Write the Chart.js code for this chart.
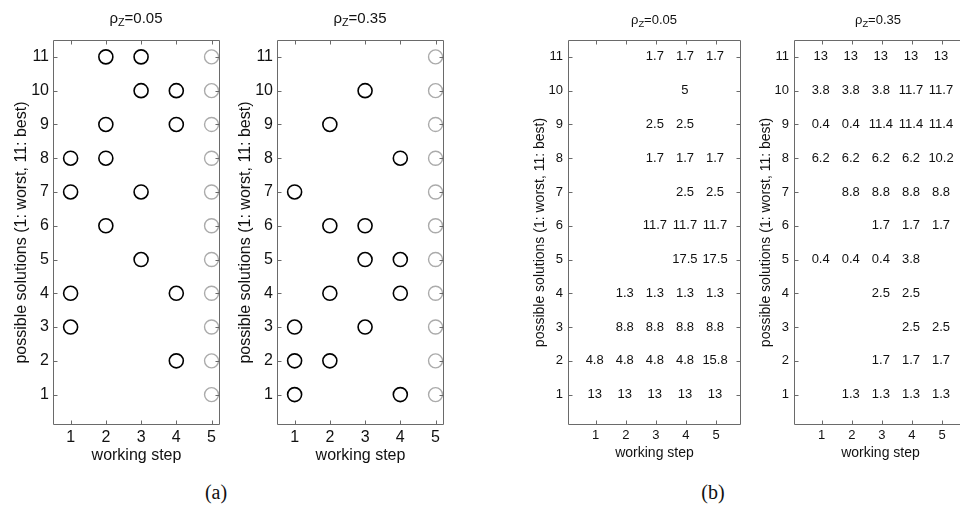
<!DOCTYPE html>
<html>
<head>
<meta charset="utf-8">
<script src="https://cdn.jsdelivr.net/npm/chart.js@4.4.1/dist/chart.umd.min.js"></script>
<style>
  html, body { margin: 0; padding: 0; background: #fff; width: 960px; height: 513px; overflow: hidden; }
  body { position: relative; font-family: "Liberation Sans", Arial, sans-serif; color: #111; }
  canvas { position: absolute; top: 0; }
  .ttl { position: absolute; transform: translateX(-50%); white-space: nowrap; line-height: 16px; }
  .ttl sub { font-size: 72%; position: relative; top: 3px; vertical-align: baseline; line-height: 0; }
  .cap { position: absolute; transform: translate(-50%, -50%); font-family: "Liberation Serif", "Times New Roman", serif; font-size: 20px; }
</style>
</head>
<body>
<canvas id="a1" width="230" height="470" style="left:0px"></canvas>
<canvas id="a2" width="230" height="470" style="left:224px"></canvas>
<canvas id="b1" width="240" height="470" style="left:510px"></canvas>
<canvas id="b2" width="240" height="470" style="left:736px"></canvas>

<div class="ttl" style="left:136px; top:10px; font-size:15px;">&rho;<sub>Z</sub>=0.05</div>
<div class="ttl" style="left:360px; top:10px; font-size:15px;">&rho;<sub>Z</sub>=0.35</div>
<div class="ttl" style="left:654px; top:12px; font-size:13px;">&rho;<sub>Z</sub>=0.05</div>
<div class="ttl" style="left:878px; top:12px; font-size:13px;">&rho;<sub>Z</sub>=0.35</div>

<div class="cap" style="left:216px; top:492px;">(a)</div>
<div class="cap" style="left:713px; top:492px;">(b)</div>

<script>
// working steps (x) and possible solutions (y)
const steps = [1, 2, 3, 4, 5];
const solutions = [1, 2, 3, 4, 5, 6, 7, 8, 9, 10, 11];
const lastStep = 5;

// (a) chosen solutions per working step, black circles
const lowStep     = [1, 1, 1, 1, 2, 2, 2, 2, 3, 3, 3, 3, 4, 4, 4, 4];
const lowSolution = [8, 7, 4, 3, 11, 9, 8, 6, 11, 10, 7, 5, 10, 9, 4, 2];
const highStep     = [1, 1, 1, 1, 2, 2, 2, 2, 3, 3, 3, 3, 4, 4, 4, 4];
const highSolution = [7, 3, 2, 1, 9, 6, 4, 2, 10, 6, 5, 3, 8, 5, 4, 1];

// (b) values, rows from solution 11 down to 1, columns step 1..5
const lowTable = [
  [null, null, 1.7, 1.7, 1.7],
  [null, null, null, 5, null],
  [null, null, 2.5, 2.5, null],
  [null, null, 1.7, 1.7, 1.7],
  [null, null, null, 2.5, 2.5],
  [null, null, 11.7, 11.7, 11.7],
  [null, null, null, 17.5, 17.5],
  [null, 1.3, 1.3, 1.3, 1.3],
  [null, 8.8, 8.8, 8.8, 8.8],
  [4.8, 4.8, 4.8, 4.8, 15.8],
  [13, 13, 13, 13, 13]
];
const highTable = [
  [13, 13, 13, 13, 13],
  [3.8, 3.8, 3.8, 11.7, 11.7],
  [0.4, 0.4, 11.4, 11.4, 11.4],
  [6.2, 6.2, 6.2, 6.2, 10.2],
  [null, 8.8, 8.8, 8.8, 8.8],
  [null, null, 1.7, 1.7, 1.7],
  [0.4, 0.4, 0.4, 3.8, null],
  [null, null, 2.5, 2.5, null],
  [null, null, null, 2.5, 2.5],
  [null, null, 1.7, 1.7, 1.7],
  [null, 1.3, 1.3, 1.3, 1.3]
];

const family = '"Liberation Sans", Arial, sans-serif';
const yLabel = 'possible solutions (1: worst, 11: best)';

// box round the plot with inward ticks on all four sides
const framePlugin = {
  id: 'frame',
  afterDatasetsDraw(chart) {
    const { ctx, chartArea: a, scales: { x, y } } = chart;
    const L = Math.round(a.left) + 0.5, R = Math.round(a.right) - 0.5;
    const T = Math.round(a.top) + 0.5, B = Math.round(a.bottom) - 0.5;
    const len = 4;
    ctx.save();
    ctx.strokeStyle = '#6a6a6a';
    ctx.lineWidth = 1;
    ctx.beginPath();
    ctx.rect(L, T, R - L, B - T);
    steps.forEach(v => {
      const px = Math.round(x.getPixelForValue(v)) + 0.5;
      ctx.moveTo(px, B); ctx.lineTo(px, B - len);
      ctx.moveTo(px, T); ctx.lineTo(px, T + len);
    });
    solutions.forEach(v => {
      const py = Math.round(y.getPixelForValue(v)) + 0.5;
      ctx.moveTo(L, py); ctx.lineTo(L + len, py);
      ctx.moveTo(R, py); ctx.lineTo(R - len, py);
    });
    ctx.stroke();
    ctx.restore();
  }
};

// numbers written at the points of the (b) tables
const cellTextPlugin = {
  id: 'cellText',
  afterDatasetsDraw(chart) {
    const ctx = chart.ctx;
    chart.data.datasets.forEach((ds, i) => {
      if (!ds.cellText) return;
      const meta = chart.getDatasetMeta(i);
      ctx.save();
      ctx.fillStyle = '#111';
      ctx.font = ds.cellFont;
      ctx.textAlign = 'center';
      ctx.textBaseline = 'middle';
      meta.data.forEach((pt, j) => {
        ctx.fillText(String(ds.data[j].t), pt.x - 1, pt.y);
      });
      ctx.restore();
    });
  }
};

function makePanel(id, c) {
  return new Chart(document.getElementById(id), {
    type: 'scatter',
    data: { datasets: c.datasets },
    options: {
      responsive: false,
      animation: false,
      events: [],
      layout: { padding: { left: 0, top: 40, right: c.padRight, bottom: 0 } },
      plugins: { legend: { display: false }, tooltip: { enabled: false } },
      scales: {
        x: {
          type: 'linear',
          min: c.xMin, max: c.xMax,
          afterBuildTicks: s => { s.ticks = steps.map(v => ({ value: v })); },
          afterFit: s => { s.height = 45; },
          grid: { display: false, drawTicks: false },
          border: { display: false },
          ticks: { color: '#111', font: { family, size: c.tickSize }, padding: c.xTickPad, maxRotation: 0, autoSkip: false },
          title: { display: true, text: 'working step', color: '#111', font: { family, size: c.labelSize }, padding: { top: 0, bottom: c.xTitlePad } }
        },
        y: {
          type: 'linear',
          min: 0.1, max: 11.5,
          afterBuildTicks: s => { s.ticks = solutions.map(v => ({ value: v })); },
          afterFit: s => { s.width = c.yWidth; },
          grid: { display: false, drawTicks: false },
          border: { display: false },
          ticks: { color: '#111', font: { family, size: c.tickSize }, padding: c.yTickPad, autoSkip: false },
          title: { display: true, text: yLabel, color: '#111', font: { family, size: c.labelSize }, padding: { top: c.yTitlePad, bottom: 0 } }
        }
      }
    },
    plugins: [framePlugin, cellTextPlugin]
  });
}

function circleSets(stepArr, solArr) {
  return [
    {
      data: solutions.map(v => ({ x: lastStep, y: v })),
      pointStyle: 'circle', pointRadius: 7, borderWidth: 1.4,
      borderColor: '#ababab', backgroundColor: 'rgba(0,0,0,0)', clip: false
    },
    {
      data: stepArr.map((s, i) => ({ x: s, y: solArr[i] })),
      pointStyle: 'circle', pointRadius: 7, borderWidth: 1.6,
      borderColor: '#000', backgroundColor: 'rgba(0,0,0,0)', clip: false
    }
  ];
}

function tableSet(table) {
  const pts = [];
  table.forEach((row, r) => {
    row.forEach((val, k) => {
      if (val !== null) pts.push({ x: steps[k], y: solutions[solutions.length - 1 - r], t: val });
    });
  });
  return [{ data: pts, pointRadius: 0, cellText: true, cellFont: '13px ' + family, clip: false }];
}

const aOpts = { xMin: 0.5, xMax: 5.24, padRight: 10, yWidth: 53, tickSize: 16, labelSize: 16,
                xTickPad: 3, xTitlePad: 5, yTickPad: 4, yTitlePad: 12 };
const bOpts = { xMin: 0.08, xMax: 5.83, padRight: 9, yWidth: 58, tickSize: 13, labelSize: 14,
                xTickPad: 3, xTitlePad: 8, yTickPad: 5, yTitlePad: 22 };

makePanel('a1', Object.assign({ datasets: circleSets(lowStep, lowSolution) }, aOpts));
makePanel('a2', Object.assign({ datasets: circleSets(highStep, highSolution) }, aOpts));
makePanel('b1', Object.assign({ datasets: tableSet(lowTable) }, bOpts));
makePanel('b2', Object.assign({ datasets: tableSet(highTable) }, bOpts));
</script>
</body>
</html>
